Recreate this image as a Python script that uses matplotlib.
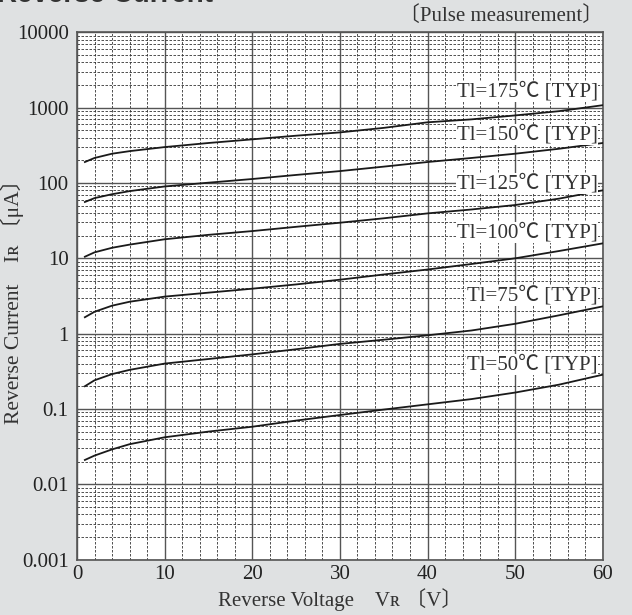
import numpy as np
import matplotlib
matplotlib.use("Agg")
import matplotlib.pyplot as plt
from matplotlib.ticker import FixedLocator, NullFormatter

# %%
# values (V, uA)
volts = [0.9, 2, 4, 6, 10, 15, 20, 25, 30, 35, 40, 45, 50, 55, 60]
ir_175 = [190, 215, 245, 265, 300, 340, 380, 425, 470, 540, 640, 700, 790, 900, 1080]
ir_150 = [56, 63, 71, 78, 90, 101, 113, 128, 144, 165, 190, 215, 245, 285, 340]
ir_125 = [10.5, 12, 13.8, 15.2, 17.9, 20.5, 23, 26.2, 29.7, 34, 39.5, 44.5, 51, 62, 80]
ir_100 = [1.65, 1.95, 2.35, 2.65, 3.1, 3.5, 3.95, 4.5, 5.2, 6.1, 7.1, 8.4, 10, 12.5, 15.8]
ir_75 = [0.2, 0.24, 0.29, 0.33, 0.40, 0.46, 0.53, 0.62, 0.73, 0.83, 0.95, 1.1, 1.35, 1.75, 2.3]
ir_50 = [0.021, 0.024, 0.029, 0.034, 0.042, 0.05, 0.058, 0.07, 0.083, 0.098, 0.115,
         0.135, 0.165, 0.21, 0.285]

series = [ir_175, ir_150, ir_125, ir_100, ir_75, ir_50]
labels = ['Tl=175℃ [TYP]', 'Tl=150℃ [TYP]', 'Tl=125℃ [TYP]',
          'Tl=100℃ [TYP]', 'Tl=75℃ [TYP]', 'Tl=50℃ [TYP]']
label_y = [1630, 440, 98, 22, 3.2, 0.39]

yticks = [0.001, 0.01, 0.1, 1, 10, 100, 1000, 10000]
ytick_labels = ['0.001', '0.01', '0.1', '1', '10', '100', '1000', '10000']
xticks = [0, 10, 20, 30, 40, 50, 60]

# %%
serif = ['Liberation Serif', 'Noto Sans CJK JP', 'DejaVu Serif']
plt.rcParams['font.family'] = serif
bg = '#dfe1e2'

fig = plt.figure(figsize=(6.32, 6.15), dpi=100, facecolor=bg)
ax = fig.add_axes([0.1218, 0.0902, 0.832, 0.8571])
ax.set_facecolor('white')
ax.set_yscale('log')
ax.set_xlim(0, 60)
ax.set_ylim(0.001, 10000)

# grid
minor_y = [m * 10.0 ** e for e in range(-3, 4) for m in range(2, 10)]
ax.yaxis.set_minor_locator(FixedLocator(minor_y))
ax.yaxis.set_minor_formatter(NullFormatter())
ax.xaxis.set_minor_locator(FixedLocator([v for v in range(0, 61, 2) if v % 10]))
ax.grid(which='major', color='#555555', lw=1.0, ls='-')
ax.grid(which='minor', color='#333333', lw=0.6, ls=(0, (3, 1.8)))
ax.set_axisbelow(True)

for sp in ax.spines.values():
    sp.set_color('#555555')
    sp.set_linewidth(1.2)

ax.set_yticks(yticks)
ax.set_yticklabels(ytick_labels)
ax.set_xticks(xticks)
ax.tick_params(which='both', length=0, labelsize=15, colors='#222222')
ax.tick_params(axis='y', pad=6)
ax.tick_params(axis='x', pad=4)

for vals in series:
    ax.plot(volts, vals, color='#1a1a1a', lw=1.3, zorder=3)

for txt, yy in zip(labels, label_y):
    ax.text(59.4, yy, txt, ha='right', va='center', fontsize=15,
            color='#333333', zorder=4,
            bbox=dict(facecolor='white', edgecolor='none', pad=0.5))

ax.set_xlabel('Reverse Voltage　Vʀ 〔V〕', fontsize=15, color='#333333',
              labelpad=3)
ax.set_ylabel('Reverse Current　Iʀ 〔μA〕', fontsize=15.5, color='#333333')
ax.yaxis.set_label_coords(-0.1, 0.5)

fig.text(0.954, 0.974, '〔Pulse measurement〕', ha='right', va='center',
         fontsize=15, color='#333333')
fig.text(-0.004, 1 - 2 / 615, 'Reverse Current', ha='left', va='baseline',
         fontsize=20, fontweight='bold', color='#333333',
         family=['Liberation Sans', 'DejaVu Sans'])

fig.savefig('out.png', dpi=100, facecolor=bg)
